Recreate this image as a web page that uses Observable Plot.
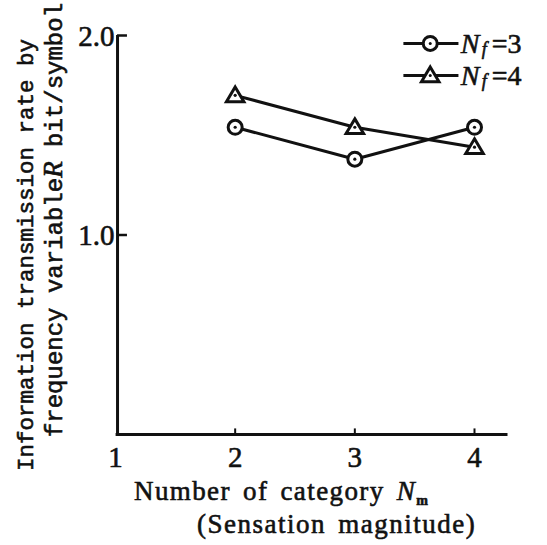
<!DOCTYPE html>
<html><head><meta charset="utf-8">
<script src="https://cdn.jsdelivr.net/npm/d3@7"></script>
<script src="https://cdn.jsdelivr.net/npm/@observablehq/plot@0.6"></script>
<style>body{margin:0;background:#fff}</style>
</head><body><div id="chart"></div>
<script>
// ---- data ----
const categories = [2, 3, 4];
const seriesLabels = ["3", "4"];          // N_f values
const nf3 = [1.54, 1.38, 1.54];
const nf4 = [1.70, 1.54, 1.44];
const xTicks = [1, 2, 3, 4];
const yTicks = [1.0, 2.0];
const yTickLabels = ["1.0", "2.0"];

const rows = [
  ...categories.map((c, i) => ({x: c, y: nf3[i], s: seriesLabels[0]})),
  ...categories.map((c, i) => ({x: c, y: nf4[i], s: seriesLabels[1]}))
];

const INK = "#111";
const serif = "Liberation Serif";
const mono = "Liberation Mono";

const tri = {draw(ctx, size) {
  const r = Math.sqrt(size / Math.PI);
  ctx.moveTo(0, -1.2 * r);
  ctx.lineTo(1.25 * r, 0.9 * r);
  ctx.lineTo(-1.25 * r, 0.9 * r);
  ctx.closePath();
}};

const X0 = 1.017, XEND = 4.28;
const leg = {x1: 3.41, x2: 3.87, xm: 3.63, xt: 3.885, y: [1.96, 1.80]};
const legRows = seriesLabels.map((s, i) => ({s, y: leg.y[i]}));
const bold = {stroke: INK, strokeWidth: 0.6};

const plot = Plot.plot({
  width: 547, height: 545, margin: 0,
  style: {background: "white", color: INK},
  x: {domain: [1, 4], range: [115, 474], axis: null},
  y: {domain: [0, 2], range: [434, 35], axis: null},
  marks: [
    // axes
    Plot.ruleY([0], {x1: X0 - 0.012, x2: XEND, stroke: INK, strokeWidth: 3}),
    Plot.ruleX([X0], {y1: 0, y2: 2, stroke: INK, strokeWidth: 3}),
    Plot.ruleY(yTicks, {x1: X0, x2: 1.1, stroke: INK, strokeWidth: 2.5}),
    Plot.ruleX(xTicks.filter(d => d > 1), {y1: 0, y2: 0.028, stroke: INK, strokeWidth: 2}),
    Plot.text(xTicks, {x: d => d, y: 0, dy: 23, text: d => String(d), fontSize: 29, fontFamily: serif, fill: INK, ...bold}),
    Plot.text(yTicks, {x: 1, y: d => d, dx: -1, dy: 1, textAnchor: "end", text: (d, i) => yTickLabels[i], fontSize: 29, fontFamily: serif, fill: INK, ...bold}),
    // data
    Plot.line(rows, {x: "x", y: "y", z: "s", stroke: INK, strokeWidth: 3}),
    Plot.dot(rows.filter(d => d.s === "3"), {x: "x", y: "y", r: 7, stroke: INK, strokeWidth: 3, fill: "white"}),
    Plot.dot(rows.filter(d => d.s === "4"), {x: "x", y: "y", r: 7, symbol: tri, stroke: INK, strokeWidth: 3, fill: "white"}),
    Plot.dot(rows, {x: "x", y: "y", r: 1.6, fill: INK}),
    // legend
    Plot.ruleY(legRows, {y: "y", x1: leg.x1, x2: leg.x2, stroke: INK, strokeWidth: 3}),
    Plot.dot(legRows.filter(d => d.s === "3"), {x: leg.xm, y: "y", r: 7, stroke: INK, strokeWidth: 3, fill: "white"}),
    Plot.dot(legRows.filter(d => d.s === "4"), {x: leg.xm, y: "y", r: 7, symbol: tri, stroke: INK, strokeWidth: 3, fill: "white"}),
    Plot.dot(legRows, {x: leg.xm, y: "y", r: 1.5, fill: INK}),
    Plot.text(legRows, {x: leg.xt, y: "y", text: () => "N", textAnchor: "start", fontSize: 28, fontStyle: "italic", fontFamily: serif, fill: INK, dy: 1, ...bold}),
    Plot.text(legRows, {x: leg.xt, y: "y", text: () => "f", textAnchor: "start", fontSize: 18, fontStyle: "italic", fontFamily: serif, fill: INK, dx: 21, dy: 6, ...bold}),
    Plot.text(legRows, {x: leg.xt, y: "y", text: d => "=" + d.s, textAnchor: "start", fontSize: 28, fontFamily: serif, fill: INK, dx: 31, dy: 1, ...bold})
  ]
});

const svg = d3.select(plot);
// y-axis title (two rotated lines)
svg.append("text")
  .attr("transform", "translate(33,255) rotate(-90)")
  .attr("text-anchor", "middle")
  .attr("font-family", mono).attr("font-size", 22.5).attr("fill", INK)
  .attr("stroke", INK).attr("stroke-width", 0.6)
  .text("Information transmission rate by");
const t2 = svg.append("text")
  .attr("transform", "translate(62,220) rotate(-90)")
  .attr("text-anchor", "middle")
  .attr("font-family", mono).attr("font-size", 24).attr("fill", INK)
  .attr("stroke", INK).attr("stroke-width", 0.6);
t2.append("tspan").text("frequency variable");
t2.append("tspan").attr("font-family", serif).attr("font-style", "italic").attr("font-size", 27).text("R");
t2.append("tspan").text(" bit/symbol");

// x-axis title
const xt = svg.append("text")
  .attr("x", 134).attr("y", 500).attr("text-anchor", "start")
  .attr("font-family", serif).attr("font-size", 27).attr("letter-spacing", 1.4).attr("fill", INK)
  .attr("stroke", INK).attr("stroke-width", 0.6);
xt.append("tspan").attr("word-spacing", 4).text("Number of category ");
xt.append("tspan").attr("font-style", "italic").text("N");
xt.append("tspan").attr("font-size", 14).attr("font-weight", "bold").attr("dy", 5).text("m");
svg.append("text")
  .attr("x", 197).attr("y", 533).attr("text-anchor", "start")
  .attr("font-family", serif).attr("font-size", 27).attr("letter-spacing", 1.5).attr("word-spacing", 4).attr("fill", INK)
  .attr("stroke", INK).attr("stroke-width", 0.6)
  .text("(Sensation magnitude)");

document.getElementById("chart").appendChild(plot);
</script>
</body></html>
